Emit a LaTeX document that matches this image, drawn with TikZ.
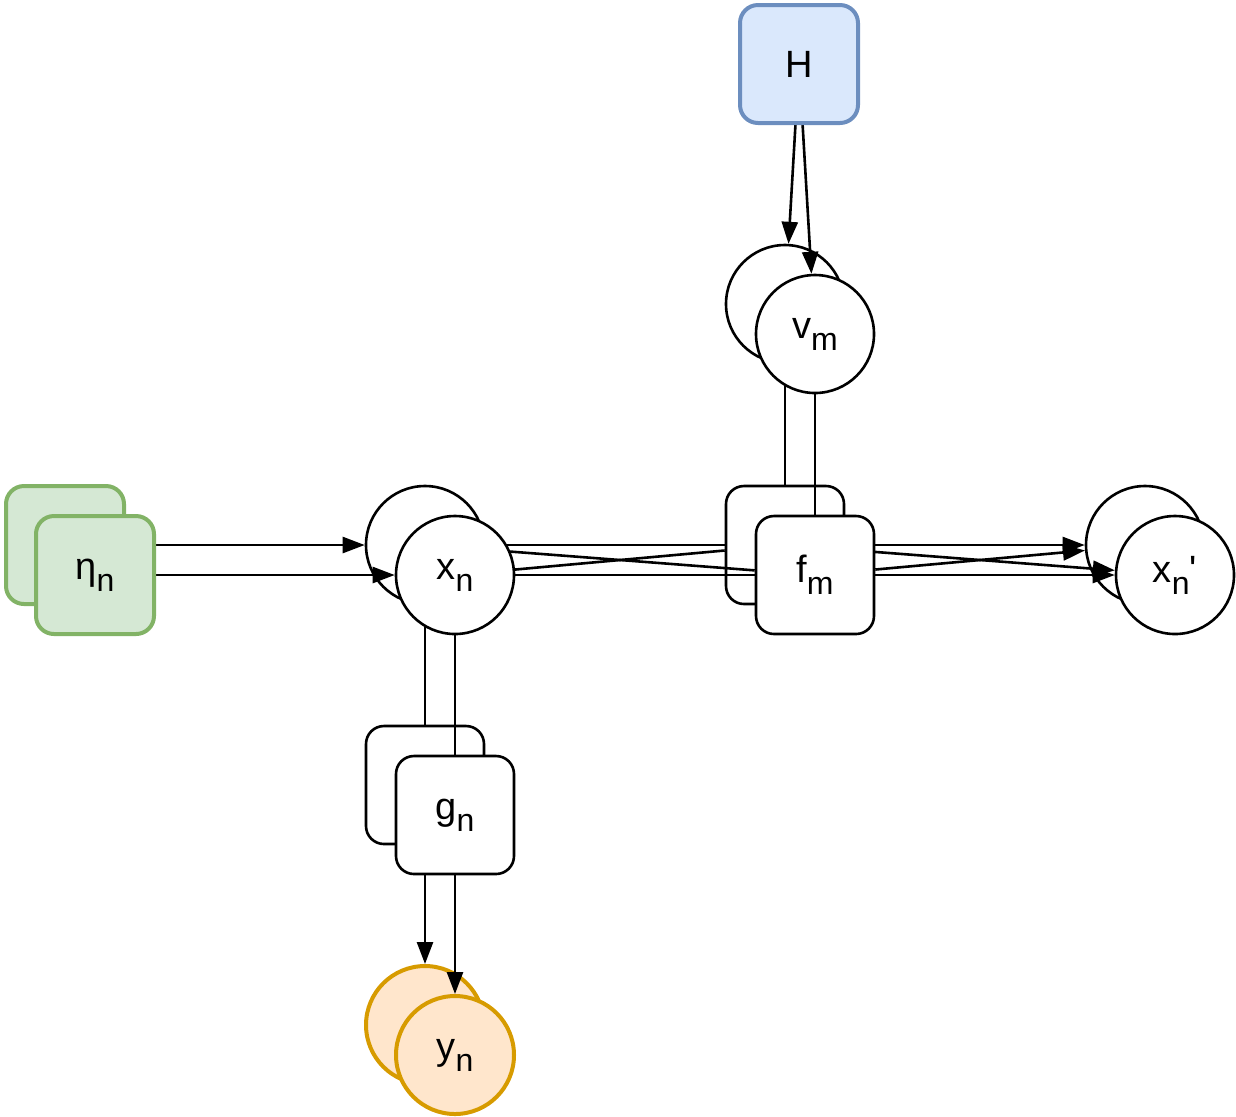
\documentclass[tikz,border=0pt]{standalone}
\usepackage{fontspec}
\setmainfont{Liberation Sans}
\usetikzlibrary{arrows.meta,calc,positioning}

\definecolor{hfill}{HTML}{DAE8FC}
\definecolor{hline}{HTML}{6C8EBF}
\definecolor{efill}{HTML}{D5E8D4}
\definecolor{eline}{HTML}{82B366}
\definecolor{yfill}{HTML}{FFE6CC}
\definecolor{yline}{HTML}{D79B00}

\pgfdeclarelayer{back}
\pgfdeclarelayer{wires}
\pgfsetlayers{back,wires,main}

\newcommand{\lowsub}[1]{\raisebox{-6pt}{\fontsize{16}{16}\selectfont #1}}

\begin{document}
\begin{tikzpicture}[x=0.5pt,y=-0.5pt,
  >={Triangle[length=11pt,width=8pt]},
  font=\fontsize{19}{21}\selectfont,
  wire/.style={line width=1.3pt},
  box/.style={rectangle, rounded corners=9pt, draw, fill=white,
    line width=1.3pt, minimum size=59pt, inner sep=0pt},
  var/.style={circle, draw, fill=white, line width=1.3pt,
    minimum size=59pt, inner sep=0pt},
  prior/.style={box, fill=hfill, draw=hline, line width=2pt},
  noise/.style={box, fill=efill, draw=eline, line width=2pt},
  obs/.style={var, fill=yfill, draw=yline, line width=2pt}]
  \useasboundingbox (0,0) rectangle (1236,1116);

  % stacked copies behind
  \begin{pgfonlayer}{back}
    \node[noise] (etab) at (65,545)  {};
    \node[var]   (xnb)  at (425,545) {};
    \node[var]   (vmb)  at (785,304) {};
    \node[box]   (fmb)  at (785,545) {};
    \node[var]   (xpb)  at (1145,545) {};
    \node[box]   (gnb)  at (425,785) {};
    \node[obs]   (ynb)  at (425,1025) {};
  \end{pgfonlayer}

  \node[prior] (H)   at (799,64)   {H};
  \node[noise] (eta) at (95,575)   {η\lowsub{n}};
  \node[var]   (xn)  at (455,575)  {x\lowsub{n}};
  \node[var]   (vm)  at (815,334)  {v\lowsub{m}};
  \node[box]   (fm)  at (815,575)  {f\lowsub{m}};
  \node[var]   (xp)  at (1175,575) {x\lowsub{n}\textquotesingle};
  \node[box]   (gn)  at (455,815)  {g\lowsub{n}};
  \node[obs]   (yn)  at (455,1055) {y\lowsub{n}};

  \begin{pgfonlayer}{wires}
    \draw[wire,->] (H) -- (vmb);
    \draw[wire,->] (H) -- (vm);
    \draw[wire] (vmb) -- (fmb);
    \draw[wire] (vm) -- (fm);
    \draw[wire,->] (etab) -- (xnb);
    \draw[wire,->] (eta) -- (xn);
    \draw[wire] (xnb) -- (fmb);
    \draw[wire] (xn) -- (fm);
    \draw[wire] (xnb) -- (fm);
    \draw[wire] (xn) -- (fmb);
    \draw[wire,->] (fmb) -- (xpb);
    \draw[wire,->] (fm) -- (xp);
    \draw[wire,->] (fmb) -- (xp);
    \draw[wire,->] (fm) -- (xpb);
    \draw[wire] (xnb) -- (gnb);
    \draw[wire] (xn) -- (gn);
    \draw[wire,->] (gnb) -- (ynb);
    \draw[wire,->] (gn) -- (yn);
  \end{pgfonlayer}
\end{tikzpicture}
\end{document}
